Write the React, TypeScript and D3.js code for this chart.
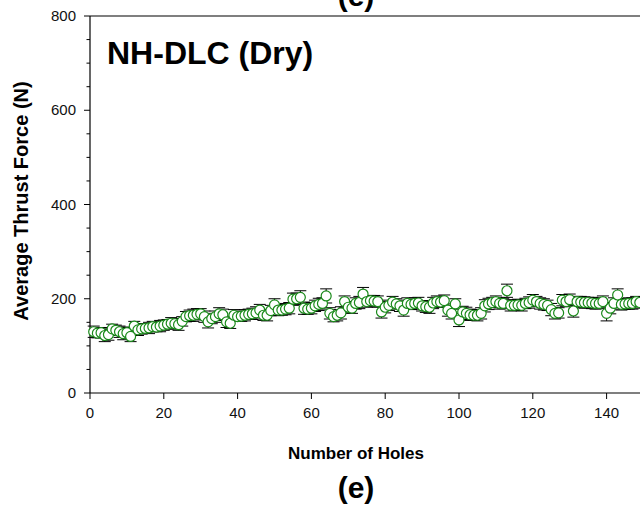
import React from "react";
import * as d3 from "d3";

const holes: number[] = Array.from({ length: 149 }, (_, i) => i + 1);

const thrust: number[] = [
  130, 127, 128, 122, 124, 136, 133, 130, 126, 128,
  120, 142, 134, 136, 137, 138, 141, 140, 142, 144,
  146, 148, 147, 145, 152, 162, 164, 165, 167, 168,
  162, 151, 158, 162, 168, 166, 151, 148, 165, 162,
  163, 165, 167, 168, 170, 176, 165, 165, 175, 187,
  176, 176, 178, 180, 199, 200, 203, 180, 178, 180,
  185, 188, 190, 206, 169, 162, 165, 170, 194, 182,
  180, 190, 192, 210, 194, 196, 195, 194, 172, 182,
  186, 193, 189, 185, 176, 190, 188, 190, 191, 185,
  183, 182, 191, 194, 193, 196, 176, 169, 189, 155,
  172, 169, 166, 165, 165, 169, 185, 189, 192, 194,
  190, 190, 217, 186, 186, 187, 186, 190, 192, 197,
  194, 190, 188, 186, 177, 169, 170, 197, 194, 198,
  174, 194, 193, 192, 192, 191, 190, 190, 194, 169,
  180, 190, 208, 188, 189, 190, 190, 194, 192,
];

const thrustErr: number[] = [
  12, 10, 11, 13, 12, 10, 11, 12, 13, 12,
  11, 10, 12, 11, 10, 12, 11, 10, 12, 11,
  10, 12, 11, 12, 10, 11, 12, 13, 12, 11,
  12, 13, 11, 12, 13, 12, 12, 11, 12, 10,
  11, 12, 11, 12, 13, 12, 11, 12, 11, 13,
  12, 11, 12, 12, 13, 12, 14, 13, 11, 12,
  12, 13, 12, 15, 12, 11, 12, 13, 12, 12,
  11, 12, 13, 14, 12, 11, 12, 12, 13, 12,
  11, 12, 11, 12, 13, 12, 11, 12, 12, 11,
  12, 13, 12, 12, 11, 12, 13, 12, 11, 14,
  12, 13, 12, 11, 12, 12, 13, 12, 11, 12,
  12, 11, 14, 12, 11, 12, 12, 11, 12, 12,
  11, 12, 12, 11, 13, 12, 11, 12, 11, 12,
  13, 11, 12, 12, 11, 12, 12, 11, 12, 16,
  12, 12, 13, 12, 11, 12, 12, 11, 12,
];

const xTicks: number[] = [0, 20, 40, 60, 80, 100, 120, 140];
const yTicks: number[] = [0, 200, 400, 600, 800];
const yMinorTicks: number[] = [50, 100, 150, 250, 300, 350, 450, 500, 550, 650, 700, 750];

const W = 640;
const H = 508;
const FONT = "'Liberation Sans', Arial, Helvetica, sans-serif";

export default function App() {
  const x = d3.scaleLinear().domain([0, 160]).range([90, 90 + 160 * 3.69]);
  const y = d3.scaleLinear().domain([0, 800]).range([393, 16]);
  const left = x(0);
  const bottom = y(0);
  const top = y(800);
  const cap = 6;

  return (
    <svg
      width={W}
      height={H}
      style={{ position: "absolute", left: 0, top: 0, background: "#fff" }}
      fontFamily={FONT}
    >
      <rect x={0} y={0} width={W} height={H} fill="#fff" />
      {/* top partial title */}
      <text x={356} y={6} textAnchor="middle" fontSize={30} fontWeight="bold" fill="#000">
        (e)
      </text>

      {/* axes frame */}
      <line x1={left} x2={W} y1={top} y2={top} stroke="#000" strokeWidth={1.2} />
      <line x1={left} x2={left} y1={top} y2={bottom} stroke="#000" strokeWidth={1.2} />
      <line x1={left} x2={W} y1={bottom} y2={bottom} stroke="#000" strokeWidth={1.2} />

      {/* y ticks */}
      {yTicks.map((t) => (
        <g key={"yt" + t}>
          <line x1={left - 6} x2={left} y1={y(t)} y2={y(t)} stroke="#000" strokeWidth={1} />
          <text x={76} y={y(t) + 5} textAnchor="end" fontSize={15} fill="#111">
            {t}
          </text>
        </g>
      ))}
      {yMinorTicks.map((t) => (
        <line key={"ym" + t} x1={left - 3.5} x2={left} y1={y(t)} y2={y(t)} stroke="#000" strokeWidth={1} />
      ))}

      {/* x ticks */}
      {xTicks.map((t) => (
        <g key={"xt" + t}>
          <line x1={x(t)} x2={x(t)} y1={bottom} y2={bottom + 6} stroke="#000" strokeWidth={1} />
          <text x={x(t)} y={bottom + 25} textAnchor="middle" fontSize={15} fill="#111">
            {t}
          </text>
        </g>
      ))}

      {/* error bars */}
      {holes.map((h, i) => {
        const cx = x(h);
        const y1 = y(thrust[i] + thrustErr[i]);
        const y2 = y(thrust[i] - thrustErr[i]);
        return (
          <g key={"e" + h} stroke="#000" strokeWidth={1}>
            <line x1={cx} x2={cx} y1={y1} y2={y2} />
            <line x1={cx - cap} x2={cx + cap} y1={y1} y2={y1} />
            <line x1={cx - cap} x2={cx + cap} y1={y2} y2={y2} />
          </g>
        );
      })}

      {/* points */}
      {holes.map((h, i) => (
        <circle
          key={"p" + h}
          cx={x(h)}
          cy={y(thrust[i])}
          r={5}
          fill="#fff"
          stroke="#1a8a1a"
          strokeWidth={1.2}
        />
      ))}

      {/* inset label */}
      <text x={107} y={64} fontSize={32} fontWeight="bold" fill="#000">
        NH-DLC (Dry)
      </text>

      {/* axis titles */}
      <text
        transform={`translate(28, 201) rotate(-90)`}
        textAnchor="middle"
        fontSize={20}
        fontWeight="bold"
        fill="#000"
      >
        Average Thrust Force (N)
      </text>
      <text x={356} y={459} textAnchor="middle" fontSize={17} fontWeight="bold" fill="#000">
        Number of Holes
      </text>
      <text x={356} y={498} textAnchor="middle" fontSize={30} fontWeight="bold" fill="#000">
        (e)
      </text>
    </svg>
  );
}
